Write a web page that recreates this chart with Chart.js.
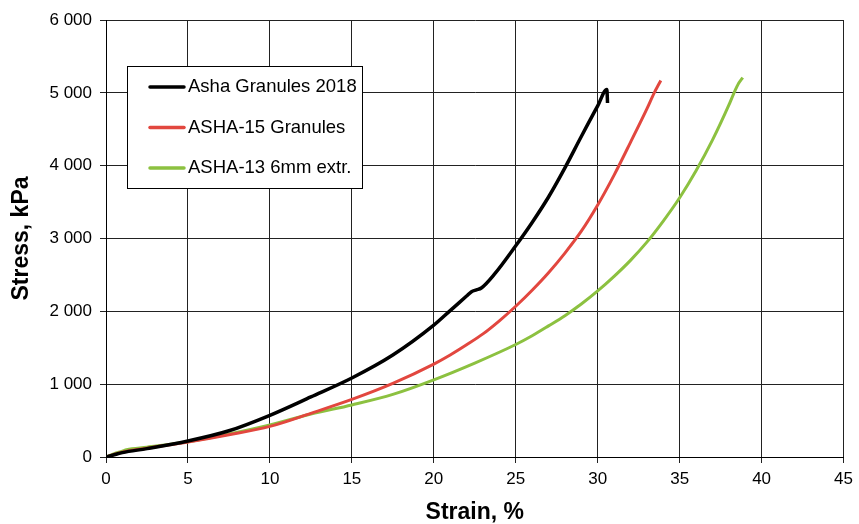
<!DOCTYPE html>
<html>
<head>
<meta charset="utf-8">
<script src="https://cdn.jsdelivr.net/npm/chart.js@4.4.1/dist/chart.umd.min.js"></script>
<style>
  html, body { margin: 0; padding: 0; background: #fff; }
  canvas { display: block; }
</style>
</head>
<body>
<canvas id="chart" width="859" height="524"></canvas>
<script>
// series: strain (%) / stress (kPa)
const seriesNames = ['Asha Granules 2018', 'ASHA-15 Granules', 'ASHA-13 6mm extr.']

const ashaStrain = [0, 0.5, 1, 2.5, 5, 7.5, 10, 12.5, 15, 17.5, 20, 21, 22, 22.3, 22.6, 22.9, 23.7, 25, 26, 27, 28, 29, 30, 30.56, 30.6]
const ashaStress = [0, 30, 60, 115, 220, 360, 573, 825, 1085, 1400, 1810, 2010, 2210, 2270, 2295, 2320, 2510, 2900, 3220, 3570, 3970, 4400, 4820, 5045, 4860]

const asha15Strain = [0, 0.5, 1, 2.5, 5, 7.5, 10, 12.5, 15, 17.5, 20, 21, 22, 23, 24, 25, 26, 27, 28, 29, 30, 31, 32, 33, 33.45, 33.85]
const asha15Stress = [0, 35, 65, 120, 205, 305, 420, 600, 790, 1010, 1275, 1400, 1540, 1690, 1870, 2070, 2290, 2530, 2800, 3100, 3460, 3870, 4320, 4780, 5000, 5170]

const asha13Strain = [0, 0.5, 1, 1.25, 2.5, 5, 7.5, 10, 12.5, 15, 17.5, 20, 22.5, 25, 26, 27, 28, 29, 30, 31, 32, 33, 34, 35, 36, 37, 38, 38.3, 38.6, 38.85]
const asha13Stress = [0, 45, 80, 100, 135, 210, 315, 440, 590, 715, 860, 1060, 1290, 1545, 1665, 1800, 1940, 2100, 2280, 2480, 2700, 2950, 3240, 3560, 3930, 4350, 4830, 4990, 5130, 5210]

const seriesColors = ['#000000', '#e2473f', '#8cc140']

const xTicks = { min: 0, max: 45, step: 5 }
const yTicks = { min: 0, max: 6000, step: 1000 }

const toPoints = (xs, ys) => xs.map((x, i) => ({ x: x, y: ys[i] }))

const FONT = '"Liberation Sans", Arial, sans-serif'

// legend box sitting inside the plot, like the spreadsheet one
const boxLegend = {
  id: 'boxLegend',
  afterDatasetsDraw(chart) {
    const ctx = chart.ctx
    const left = 127, top = 66, w = 235, h = 122
    ctx.save()
    ctx.fillStyle = '#fff'
    ctx.fillRect(left, top, w, h)
    ctx.strokeStyle = '#000'
    ctx.lineWidth = 1
    ctx.strokeRect(left + 0.5, top + 0.5, w, h)
    chart.data.datasets.forEach((ds, i) => {
      const y = 87 + i * 40.5
      ctx.strokeStyle = ds.borderColor
      ctx.lineWidth = 3.5
      ctx.lineCap = 'round'
      ctx.beginPath()
      ctx.moveTo(150, y)
      ctx.lineTo(184, y)
      ctx.stroke()
      ctx.fillStyle = '#000'
      ctx.font = '18.5px ' + FONT
      ctx.textBaseline = 'middle'
      ctx.fillText(ds.label, 188, y)
    })
    ctx.restore()
  },
}

const config = {
  type: 'scatter',
  plugins: [boxLegend],
  data: {
    datasets: [
      { label: seriesNames[0], data: toPoints(ashaStrain, ashaStress) },
      { label: seriesNames[1], data: toPoints(asha15Strain, asha15Stress) },
      { label: seriesNames[2], data: toPoints(asha13Strain, asha13Stress) },
    ].map((ds, i) => ({
      ...ds,
      showLine: true,
      borderColor: seriesColors[i],
      backgroundColor: seriesColors[i],
      borderWidth: i === 0 ? 3.5 : 3,
      pointRadius: 0,
      cubicInterpolationMode: 'monotone',
    })),
  },
  options: {
    responsive: false,
    animation: false,
    devicePixelRatio: 1,
    layout: { padding: { left: 0, right: 11, top: 20, bottom: 0 } },
    plugins: {
      legend: { display: false },
      tooltip: { enabled: false },
    },
    scales: {
      x: {
        type: 'linear',
        min: xTicks.min,
        max: xTicks.max,
        afterFit: (scale) => { scale.height = 67 },
        ticks: {
          stepSize: xTicks.step,
          color: '#000',
          padding: 6,
          font: { family: FONT, size: 17 },
        },
        grid: { color: '#222', lineWidth: 1, tickLength: 6 },
        border: { color: '#000' },
        title: {
          display: true,
          text: 'Strain, %',
          color: '#000',
          padding: { top: 0, bottom: 0 },
          font: { family: FONT, size: 23, weight: 'bold', lineHeight: 1 },
        },
      },
      y: {
        type: 'linear',
        min: yTicks.min,
        max: yTicks.max,
        afterFit: (scale) => { scale.width = 106 },
        ticks: {
          stepSize: yTicks.step,
          color: '#000',
          padding: 8,
          font: { family: FONT, size: 17 },
          callback: (v) => String(v).replace(/\B(?=(\d{3})+(?!\d))/g, ' '),
        },
        grid: { color: '#222', lineWidth: 1, tickLength: 6 },
        border: { color: '#000' },
        title: {
          display: true,
          text: 'Stress, kPa',
          color: '#000',
          padding: { top: 10, bottom: 0 },
          font: { family: FONT, size: 23, weight: 'bold', lineHeight: 1 },
        },
      },
    },
  },
}

new Chart(document.getElementById('chart'), config)
</script>
</body>
</html>
